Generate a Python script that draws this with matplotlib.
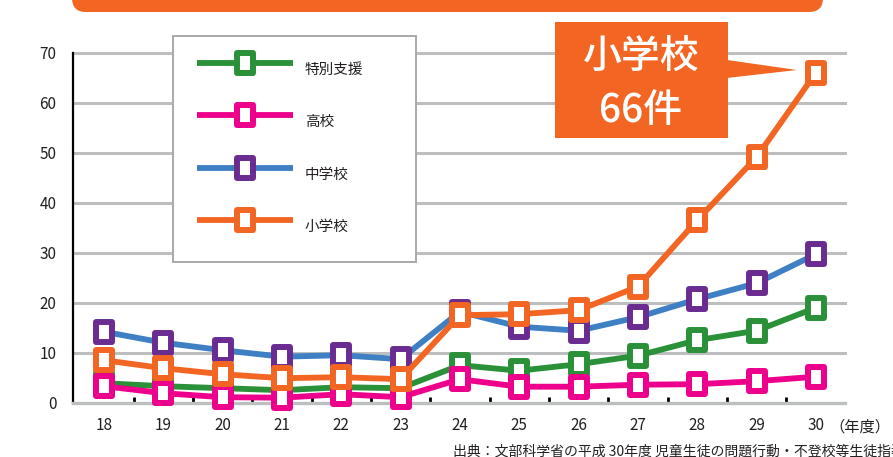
import matplotlib
matplotlib.use("Agg")
import matplotlib.pyplot as plt
from matplotlib.path import Path
from matplotlib.patches import FancyBboxPatch, Rectangle, Polygon

plt.rcParams['font.family'] = ['Noto Sans CJK JP', 'DejaVu Sans']

years = [18, 19, 20, 21, 22, 23, 24, 25, 26, 27, 28, 29, 30]
year_labels = ['18', '19', '20', '21', '22', '23', '24', '25', '26', '27', '28', '29', '30']
special = [3.9, 3.3, 2.9, 2.5, 3.1, 2.9, 7.5, 6.4, 7.7, 9.4, 12.5, 14.4, 19.0]
high = [3.3, 1.9, 1.1, 1.0, 1.7, 1.1, 4.7, 3.2, 3.2, 3.6, 3.7, 4.3, 5.2]
junior = [14.2, 12.0, 10.5, 9.2, 9.5, 8.7, 18.2, 15.2, 14.4, 17.1, 20.7, 23.9, 29.7]
elementary = [8.5, 6.9, 5.7, 4.9, 5.1, 4.7, 17.5, 17.7, 18.5, 23.2, 36.5, 49.1, 66.0]
series_names = ['特別支援', '高校', '中学校', '小学校']
y_ticks = [0, 10, 20, 30, 40, 50, 60, 70]

W, H = 893, 457
fig = plt.figure(figsize=(W / 100, H / 100), dpi=100)

def fx(px):
    return px / W

def fy(py):
    return 1 - py / H

rect = Path([(-0.4, -0.5), (0.4, -0.5), (0.4, 0.5), (-0.4, 0.5), (-0.4, -0.5)],
            [Path.MOVETO, Path.LINETO, Path.LINETO, Path.LINETO, Path.CLOSEPOLY])

green = '#2A9139'
magenta = '#EC008C'
blue = '#3F7FC4'
purple = '#6A2C91'
orange = '#F26522'
grid_c = '#BCBEC0'
txt_c = '#231F20'

ax_l, ax_r, ax_t, ax_b = 73, 845, 52.7, 402.7
ax = fig.add_axes([fx(ax_l), fy(ax_b), (ax_r - ax_l) / W, (ax_b - ax_t) / H])
ax.set_xlim(17.48, 30.49)
ax.set_ylim(0, 70)
for s in ['top', 'right']:
    ax.spines[s].set_visible(False)
ax.spines['left'].set_color('black')
ax.spines['left'].set_linewidth(1.6)
ax.spines['bottom'].set_color(grid_c)
ax.spines['bottom'].set_linewidth(2.4)
for yv in y_ticks[1:]:
    ax.axhline(yv, color=grid_c, lw=2.2, zorder=0, clip_on=False)
ax.set_yticks(y_ticks)
ax.set_yticklabels([str(v) for v in y_ticks], fontsize=11, color=txt_c)
ax.tick_params(axis='y', length=0, pad=12)
ax.set_xticks(years)
ax.set_xticklabels(year_labels, fontsize=11, color=txt_c)
ax.tick_params(axis='x', length=0, pad=10)
ax.set_xticks([y + 0.5 for y in years[:-1]], minor=True)
ax.tick_params(axis='x', which='minor', direction='in', length=4, width=2, color='black')
ax.text(30.22, -4.9, '（年度）', fontsize=11, color=txt_c, ha='left', va='center')

mk = dict(marker=rect, markersize=14.5, markeredgewidth=4.3, markerfacecolor='white')
ax.plot(years, special, color=green, lw=4.2, markeredgecolor=green, zorder=3, clip_on=False, **mk)
ax.plot(years, high, color=magenta, lw=4.2, markeredgecolor=magenta, zorder=4, clip_on=False, **mk)
ax.plot(years, junior, color=blue, lw=4.2, markeredgecolor=purple, zorder=5, clip_on=False, **mk)
ax.plot(years, elementary, color=orange, lw=4.2, markeredgecolor=orange, zorder=6, clip_on=False, **mk)

# overlay in pixel coordinates
ov = fig.add_axes([0, 0, 1, 1], zorder=10)
ov.set_xlim(0, W)
ov.set_ylim(H, 0)
ov.axis('off')

# top banner
ov.add_patch(FancyBboxPatch((72, -40), 751, 52, boxstyle='round,pad=0,rounding_size=14',
                            facecolor=orange, edgecolor='none'))

# legend
ov.add_patch(Rectangle((173, 36), 243, 226, facecolor='white', edgecolor='#A7A9AC', lw=1.4))
leg = [(green, green), (magenta, magenta), (blue, purple), (orange, orange)]
ly = [63, 115, 168, 220]
for (lc, mc), yy, name in zip(leg, ly, series_names):
    ov.plot([197, 293], [yy, yy], color=lc, lw=4.2, solid_capstyle='butt')
    ov.plot([245], [yy], color=lc, markeredgecolor=mc, **mk)
    ov.text(305, yy + 7, name, fontsize=10.5, color=txt_c, va='center', ha='left')

# callout
ov.add_patch(Rectangle((555, 22), 173, 116, facecolor=orange, edgecolor='none'))
ov.add_patch(Polygon([(727, 60), (727, 78), (797, 70)], closed=True, facecolor=orange, edgecolor='none'))
ov.text(641, 57, '小学校', fontsize=28, color='white', ha='center', va='center', fontweight='medium')
ov.text(641, 111, '66件', fontsize=28, color='white', ha='center', va='center', fontweight='medium')

# source (cut off at the right edge, as in the reference)
ov.text(453, 452, '出典：文部科学省の平成 30年度 児童生徒の問題行動・不登校等生徒指導上の諸課題に関する調査結果',
        fontsize=10, color=txt_c, ha='left', va='center')

fig.savefig('out.png', dpi=100)
